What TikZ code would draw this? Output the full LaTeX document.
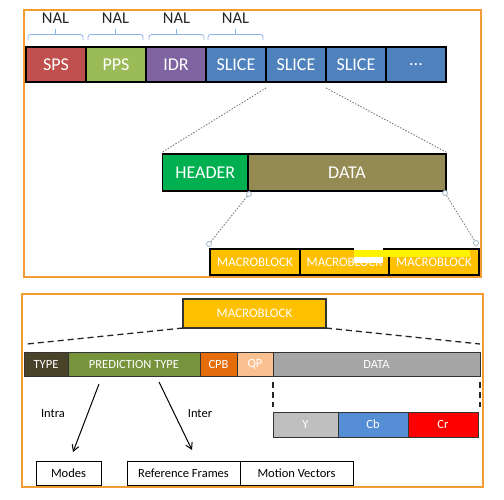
\documentclass[tikz,border=0pt]{standalone}
\usepackage{fontspec}
\setmainfont{Carlito}
\usetikzlibrary{arrows.meta}
\definecolor{frameor}{HTML}{F39C33}
\definecolor{spsred}{HTML}{C0504D}
\definecolor{ppsgreen}{HTML}{9BBB59}
\definecolor{idrpurple}{HTML}{8064A2}
\definecolor{sliceblue}{HTML}{4F81BD}
\definecolor{headgreen}{HTML}{00B050}
\definecolor{dataolive}{HTML}{948A54}
\definecolor{mbyellow}{HTML}{FFC000}
\definecolor{typedark}{HTML}{494429}
\definecolor{predgreen}{HTML}{77933C}
\definecolor{cpborange}{HTML}{E46C0A}
\definecolor{qppeach}{HTML}{FAC090}
\definecolor{datagray}{HTML}{A6A6A6}
\definecolor{ygray}{HTML}{BFBFBF}
\definecolor{cbblue}{HTML}{558ED5}
\definecolor{crred}{HTML}{FF0000}
\definecolor{braceblue}{HTML}{8DB3E2}
\definecolor{handleblue}{HTML}{9DB5C6}
\definecolor{nalgray}{HTML}{262626}
\begin{document}
\begin{tikzpicture}[x=1pt,y=-1pt,
  cell/.style={draw=black,line width=1.1pt,inner sep=0pt,outer sep=0pt,text=white,anchor=west},
  topcell/.style={cell,minimum height=35pt,minimum width=60pt,font=\fontsize{18}{20}\selectfont},
  midcell/.style={cell,minimum height=37pt,font=\fontsize{18}{20}\selectfont},
  mbcell/.style={cell,minimum height=26pt,fill=mbyellow,font=\fontsize{13}{15}\selectfont},
  lowcell/.style={cell,draw=black!80,line width=1pt,minimum height=24pt,font=\fontsize{12.5}{14}\selectfont},
  ycell/.style={cell,draw=black!80,line width=1pt,minimum height=25pt,font=\fontsize{12.5}{14}\selectfont},
  whitecell/.style={cell,text=black,fill=white,line width=0.9pt,minimum height=24pt,font=\fontsize{12.5}{14}\selectfont},
  nallabel/.style={text=nalgray,font=\fontsize{16.5}{18}\selectfont,inner sep=0pt},
  smalllabel/.style={text=black,font=\fontsize{12.5}{14}\selectfont,inner sep=0pt},
  bracepath/.style={draw=braceblue,line width=0.8pt,rounded corners=2.5pt},
  dotline/.style={draw=black!55,line width=0.8pt,dash pattern=on 1.5pt off 1.5pt},
  dashline/.style={draw=black!85,line width=1.3pt,dash pattern=on 6pt off 4pt},
  handle/.style={circle,draw=handleblue,fill=white,line width=0.7pt,minimum size=5pt,inner sep=0pt},
  panel/.style={draw=frameor,line width=1.2pt}
]
\useasboundingbox (0,0) rectangle (504,500);

% ---------- top panel ----------
\draw[panel] (24,10) rectangle (481,277);

\node[nallabel] (nal1) at (55.5,18) {NAL};
\node[nallabel] (nal2) at (115.5,18) {NAL};
\node[nallabel] (nal3) at (176.5,18) {NAL};
\node[nallabel] (nal4) at (235.5,18) {NAL};
\foreach \a/\b in {28/83,88/143,149/204,208/263}{
  \draw[bracepath] (\a,40) |- (\b,34.5) -- (\b,40);
  \draw[draw=braceblue,line width=0.8pt] ({(\a+\b)/2},34.5) -- ({(\a+\b)/2},29);
}

\node[topcell,fill=spsred] (sps) at (26,64.5) {SPS};
\node[topcell,fill=ppsgreen] (pps) at (sps.east) {PPS};
\node[topcell,fill=idrpurple] (idr) at (pps.east) {IDR};
\node[topcell,fill=sliceblue] (slice1) at (idr.east) {SLICE};
\node[topcell,fill=sliceblue] (slice2) at (slice1.east) {SLICE};
\node[topcell,fill=sliceblue] (slice3) at (slice2.east) {SLICE};
\node[topcell,fill=sliceblue] (more) at (slice3.east) {...};

\node[midcell,fill=headgreen,minimum width=85.5pt] (header) at (162.5,172.5) {HEADER};
\node[midcell,fill=dataolive,minimum width=198pt] (data) at (header.east) {DATA};

\coordinate (s2l) at ([yshift=-6pt]slice2.south west);
\coordinate (s2r) at ([yshift=-6pt]slice2.south east);
\coordinate (hl) at ([yshift=2pt]header.north west);
\coordinate (dr) at ([yshift=2pt]data.north east);
\draw[dotline] (s2l) -- (hl);
\draw[dotline] (s2r) -- (dr);

\node[mbcell,minimum width=90pt] (mb1) at (210,262) {MACROBLOCK};
\node[mbcell,minimum width=89pt] (mb2) at (mb1.east) {MACROBLOCK};
\node[mbcell,minimum width=90pt] (mb3) at (mb2.east) {MACROBLOCK};

\node[handle] (h1) at (249,194) {};
\node[handle] (h2) at (209,244) {};
\node[handle] (h3) at (445,193) {};
\node[handle] (h4) at (476,243) {};
\draw[dotline] (h1) -- (h2);
\draw[dotline] (h3) -- (h4);

% overlay artefact
\fill[white] (354,247) rectangle (383,263);
\fill[yellow] (354,250) rectangle (470,257.5);

% ---------- bottom panel ----------
\draw[panel] (22,294) rectangle (483,487);

\node[cell,draw=black!80,line width=1.2pt,fill=mbyellow,minimum width=143pt,minimum height=29pt,font=\fontsize{13}{15}\selectfont] (mb) at (183,313.5) {MACROBLOCK};

\coordinate (dl) at (27,344);
\coordinate (drr) at (480,344);
\draw[dashline] (mb.south west) -- (dl);
\draw[dashline] (mb.south east) -- (drr);

\node[lowcell,fill=typedark,minimum width=44pt] (type) at (24,364) {TYPE};
\node[lowcell,fill=predgreen,minimum width=132pt] (pred) at (type.east) {PREDICTION TYPE};
\node[lowcell,fill=cpborange,minimum width=37pt] (cpb) at (pred.east) {CPB};
\node[lowcell,fill=qppeach,minimum width=36pt] (qp) at (cpb.east) {QP};
\node[lowcell,fill=datagray,minimum width=207pt] (bdata) at (qp.east) {DATA};

\node[ycell,fill=ygray,minimum width=65pt] (ycomp) at (273,424.5) {Y};
\node[ycell,fill=cbblue,minimum width=70pt] (cb) at (ycomp.east) {Cb};
\node[ycell,fill=crred,minimum width=70pt] (cr) at (cb.east) {Cr};

\coordinate (vl1) at ([yshift=-6pt]bdata.south west);
\coordinate (vl2) at (273,407);
\coordinate (vr1) at ([yshift=-6pt]bdata.south east);
\coordinate (vr2) at (480,407);
\draw[dashline,line width=1.1pt] (vl1) -- (vl2);
\draw[dashline,line width=1.1pt] (vr1) -- (vr2);

\node[whitecell,minimum width=65pt] (modes) at (36,473) {Modes};
\node[whitecell,minimum width=113pt] (ref) at (127,473) {Reference Frames};
\node[whitecell,minimum width=113pt] (mv) at (ref.east) {Motion Vectors};

\coordinate (a1s) at (99,384);
\coordinate (a1e) at (73,452);
\coordinate (a2s) at (159,382);
\coordinate (a2e) at (192,450);
\draw[line width=1pt,-{Straight Barb[length=6pt,width=7pt]}] (a1s) -- (a1e);
\draw[line width=1pt,-{Straight Barb[length=6pt,width=7pt]}] (a2s) -- (a2e);

\node[smalllabel] (intra) at (53,414) {Intra};
\node[smalllabel] (inter) at (200,414) {Inter};
\end{tikzpicture}
\end{document}
